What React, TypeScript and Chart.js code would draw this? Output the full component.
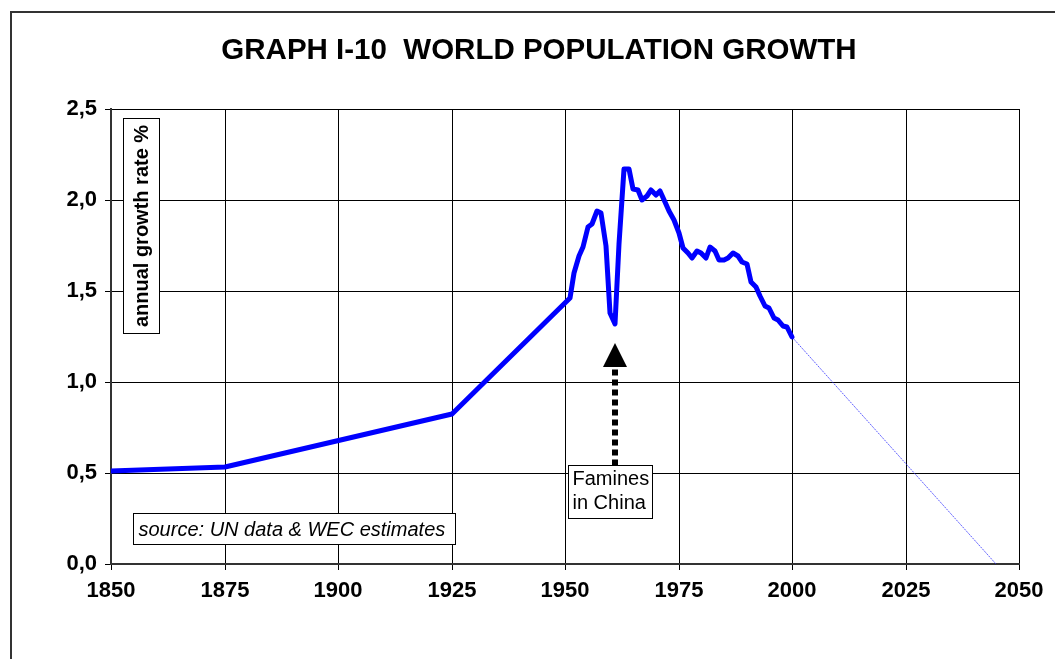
import { useEffect, useRef } from 'react';
import { Chart, registerables } from 'chart.js';

Chart.register(...registerables);

const titleText = 'GRAPH I-10  WORLD POPULATION GROWTH';
const yAxisLabel = 'annual growth rate %';
const sourceNote = 'source: UN data & WEC estimates';
const annotationLines = ['Famines', 'in China'];
const annotationYear = 1961;
const arrowStartValue = 0.544;
const arrowHeadBaseValue = 1.08;
const arrowTipValue = 1.214;

const xTickValues = [1850, 1875, 1900, 1925, 1950, 1975, 2000, 2025, 2050];
const yTickValues = [0, 0.5, 1.0, 1.5, 2.0, 2.5];
const yTickLabels = ['0,0', '0,5', '1,0', '1,5', '2,0', '2,5'];

const historyYears = [
  1850, 1875, 1925, 1951, 1952, 1953, 1954, 1955, 1956, 1957, 1958, 1959, 1960,
  1961, 1962, 1963, 1964, 1965, 1966, 1967, 1968, 1969, 1970, 1971, 1972, 1973,
  1974, 1975, 1976, 1977, 1978, 1979, 1980, 1981, 1982, 1983, 1984, 1985, 1986,
  1987, 1988, 1989, 1990, 1991, 1992, 1993, 1994, 1995, 1996, 1997, 1998, 1999,
  2000,
];
const historyRates = [
  0.51, 0.535, 0.825, 1.46, 1.6, 1.69, 1.74, 1.85, 1.87, 1.94, 1.93, 1.75, 1.38,
  1.32, 1.76, 2.17, 2.17, 2.06, 2.055, 2.0, 2.02, 2.055, 2.03, 2.05, 1.99, 1.94,
  1.89, 1.82, 1.735, 1.71, 1.68, 1.72, 1.71, 1.68, 1.74, 1.72, 1.67, 1.67, 1.68,
  1.71, 1.69, 1.66, 1.65, 1.55, 1.52, 1.47, 1.42, 1.405, 1.35, 1.34, 1.31, 1.3,
  1.25,
];

const projectionYears = [2000, 2045];
const projectionRates = [1.25, 0.0];

const FONT = '"Liberation Sans", Arial, sans-serif';

const decorPlugin = {
  id: 'decor',
  beforeDraw(chart: any) {
    const { ctx, width, height } = chart;
    ctx.save();
    ctx.fillStyle = '#ffffff';
    ctx.fillRect(0, 0, width, height);
    ctx.strokeStyle = '#333333';
    ctx.lineWidth = 2;
    ctx.beginPath();
    ctx.moveTo(11, height);
    ctx.lineTo(11, 12);
    ctx.lineTo(width, 12);
    ctx.stroke();
    ctx.fillStyle = '#000000';
    ctx.font = `bold 29.5px ${FONT}`;
    ctx.textAlign = 'center';
    ctx.textBaseline = 'middle';
    ctx.fillText(titleText, 539, 51);
    ctx.restore();
  },
  afterDraw(chart: any) {
    const { ctx, chartArea: ca } = chart;
    const xs = chart.scales.x;
    const ys = chart.scales.y;
    ctx.save();

    // y-axis label box
    const lx = ca.left + 12.5, ly = ca.top + 9.5, lw = 36, lh = 215;
    ctx.fillStyle = '#fff';
    ctx.fillRect(lx, ly, lw, lh);
    ctx.strokeStyle = '#000';
    ctx.lineWidth = 1;
    ctx.strokeRect(lx, ly, lw, lh);
    ctx.save();
    ctx.translate(lx + lw / 2 + 1, ly + lh / 2);
    ctx.rotate(-Math.PI / 2);
    ctx.fillStyle = '#000';
    ctx.font = `bold 20px ${FONT}`;
    ctx.textAlign = 'center';
    ctx.textBaseline = 'middle';
    ctx.fillText(yAxisLabel, 0, 0);
    ctx.restore();

    // source box
    const sx = ca.left + 22.5, sy = ca.bottom - 50.5, sw = 322, sh = 31;
    ctx.fillStyle = '#fff';
    ctx.fillRect(sx, sy, sw, sh);
    ctx.strokeRect(sx, sy, sw, sh);
    ctx.fillStyle = '#000';
    ctx.font = `italic 20px ${FONT}`;
    ctx.textAlign = 'left';
    ctx.textBaseline = 'alphabetic';
    ctx.fillText(sourceNote, sx + 5, sy + 22);

    // famines annotation
    const ax = Math.round(xs.getPixelForValue(annotationYear));
    const boxTop = Math.round(ys.getPixelForValue(arrowStartValue)) + 0.5;
    const headBase = ys.getPixelForValue(arrowHeadBaseValue);
    const tip = ys.getPixelForValue(arrowTipValue);

    ctx.strokeStyle = '#000';
    ctx.lineWidth = 6;
    ctx.setLineDash([6, 4]);
    ctx.beginPath();
    ctx.moveTo(ax, boxTop);
    ctx.lineTo(ax, headBase);
    ctx.stroke();
    ctx.setLineDash([]);
    ctx.fillStyle = '#000';
    ctx.beginPath();
    ctx.moveTo(ax - 12, headBase);
    ctx.lineTo(ax + 12, headBase);
    ctx.lineTo(ax, tip);
    ctx.closePath();
    ctx.fill();

    const bx = ax - 46.5, bw = 84, bh = 53;
    ctx.fillStyle = '#fff';
    ctx.fillRect(bx, boxTop, bw, bh);
    ctx.lineWidth = 1;
    ctx.strokeRect(bx, boxTop, bw, bh);
    ctx.fillStyle = '#000';
    ctx.font = `20px ${FONT}`;
    ctx.textAlign = 'left';
    ctx.textBaseline = 'alphabetic';
    ctx.fillText(annotationLines[0], bx + 4, boxTop + 19);
    ctx.fillText(annotationLines[1], bx + 4, boxTop + 43);

    ctx.restore();
  },
};

export default function App() {
  const ref = useRef<HTMLCanvasElement>(null);

  useEffect(() => {
    document.body.style.margin = '0';
    const canvas = ref.current;
    if (!canvas) return;
    const chart = new Chart(canvas, {
      type: 'line',
      data: {
        datasets: [
          {
            label: 'history',
            data: historyYears.map((x, i) => ({ x, y: historyRates[i] })),
            borderColor: '#0000ff',
            borderWidth: 5,
            pointRadius: 0,
            tension: 0,
            borderJoinStyle: 'round',
            borderCapStyle: 'round',
          },
          {
            label: 'projection',
            data: projectionYears.map((x, i) => ({ x, y: projectionRates[i] })),
            borderColor: 'rgba(40,40,255,0.75)',
            borderWidth: 1,
            borderDash: [2, 1],
            pointRadius: 0,
            tension: 0,
          },
        ],
      },
      options: {
        responsive: false,
        animation: false,
        devicePixelRatio: 1,
        layout: { padding: { top: 109, right: 36, bottom: 0, left: 0 } },
        plugins: {
          legend: { display: false },
          tooltip: { enabled: false },
          title: { display: false },
        },
        scales: {
          x: {
            type: 'linear',
            min: 1850,
            max: 2050,
            alignToPixels: true,
            afterBuildTicks: (s: any) => {
              s.ticks = xTickValues.map((value) => ({ value }));
            },
            afterFit: (s: any) => {
              s.height = 95;
            },
            ticks: {
              callback: (v: any) => String(v),
              font: { family: FONT, size: 22, weight: 'bold' },
              color: '#000',
              padding: 8,
              maxRotation: 0,
              autoSkip: false,
            },
            grid: { color: '#000', lineWidth: 1, tickLength: 6 },
            border: { color: '#333', width: 2 },
          },
          y: {
            type: 'linear',
            min: 0,
            max: 2.5,
            alignToPixels: true,
            afterBuildTicks: (s: any) => {
              s.ticks = yTickValues.map((value) => ({ value }));
            },
            afterFit: (s: any) => {
              s.width = 111;
            },
            ticks: {
              callback: (_v: any, i: number) => yTickLabels[i],
              font: { family: FONT, size: 22, weight: 'bold' },
              color: '#000',
              padding: 8,
              autoSkip: false,
            },
            grid: { color: '#000', lineWidth: 1, tickLength: 6 },
            border: { color: '#333', width: 2 },
          },
        },
      },
      plugins: [decorPlugin],
    } as any);
    return () => chart.destroy();
  }, []);

  return (
    <div style={{ width: 1055, height: 659, position: 'relative', overflow: 'hidden', background: '#fff' }}>
      <canvas ref={ref} width={1055} height={659} style={{ display: 'block', width: 1055, height: 659 }} />
    </div>
  );
}
